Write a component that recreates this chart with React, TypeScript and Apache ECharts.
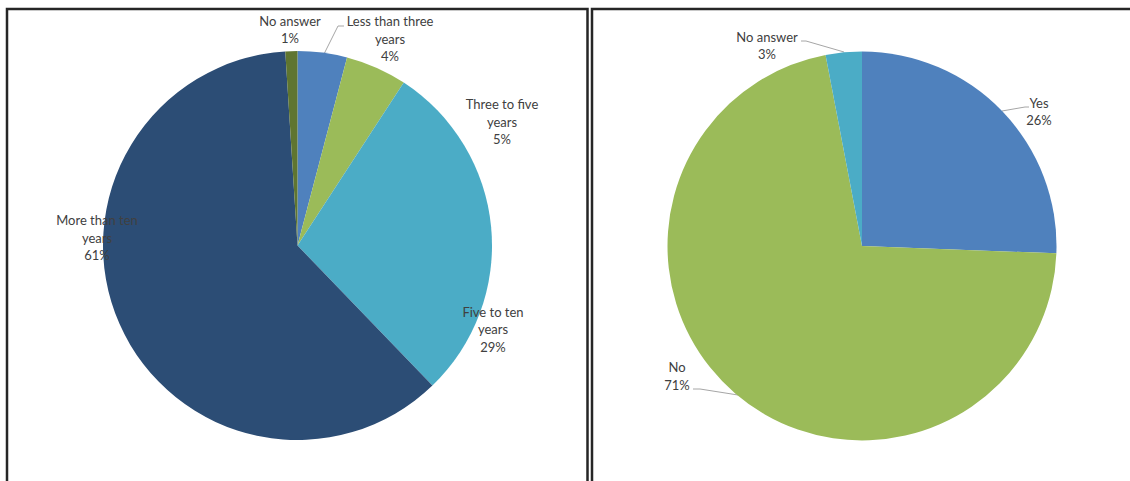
import React, { useEffect, useRef } from "react";
import * as echarts from "echarts";

// Left pie: length of time
const tenureCategories = [
  "Less than three\nyears",
  "Three to five\nyears",
  "Five to ten\nyears",
  "More than ten\nyears",
  "No answer",
];
const tenureValues = [4.1, 5.1, 28.6, 61.2, 1.0];
const tenureColors = ["#4F81BD", "#9BBB59", "#4BACC6", "#2C4D75", "#5F7530"];

// Right pie: yes / no
const answerCategories = ["Yes", "No", "No answer"];
const answerValues = [25.6, 71.4, 3.0];
const answerColors = ["#4F81BD", "#9BBB59", "#4BACC6"];

// label placement (centre of each label block) and leader lines
const tenureLabelPos = [
  { x: 390, y: 38.5, line: [[323, 56], [338, 26], [344, 26]] },
  { x: 502, y: 121.5 },
  { x: 493, y: 329 },
  { x: 97, y: 237.5 },
  { x: 290, y: 29.5 },
];
const answerLabelPos = [
  { x: 1039, y: 111.5, line: [[1002, 111], [1025, 107], [1029, 107]] },
  { x: 677, y: 376, line: [[738, 395], [700, 389], [693, 389]] },
  { x: 767, y: 45.5, line: [[844, 52], [806, 41], [801, 41]] },
];

const FONT = "Lato, 'Open Sans', sans-serif";

function makeSeries(
  names: string[],
  values: number[],
  colors: string[],
  center: number[],
  pos: any[]
) {
  return {
    type: "pie",
    center,
    radius: 194.5,
    startAngle: 90,
    clockwise: true,
    avoidLabelOverlap: false,
    data: names.map((n, i) => ({
      name: n,
      value: values[i],
      itemStyle: { color: colors[i], borderWidth: 0 },
      labelLine: { show: !!pos[i].line },
    })),
    label: {
      show: true,
      position: "outside",
      color: "#404040",
      fontFamily: FONT,
      fontSize: 13,
      lineHeight: 17.5,
      align: "center",
      formatter: (p: any) => `${p.name}\n${Math.round(p.percent)}%`,
    },
    labelLine: {
      show: true,
      lineStyle: { color: "#a6a6a6", width: 1 },
      length: 10,
      length2: 10,
    },
    labelLayout: (p: any) => {
      const q = pos[p.dataIndex];
      const r: any = { x: q.x, y: q.y, align: "center", verticalAlign: "middle" };
      if (q.line) r.labelLinePoints = q.line;
      return r;
    },
    emphasis: { disabled: true },
  };
}

export default function App() {
  const ref = useRef<HTMLDivElement>(null);
  useEffect(() => {
    if (!ref.current) return;
    const chart = echarts.init(ref.current, undefined, { renderer: "svg" });
    chart.setOption({
      animation: false,
      backgroundColor: "#ffffff",
      graphic: [
        {
          type: "rect",
          shape: { x: 7, y: 9, width: 580.5, height: 520 },
          style: { fill: "none", stroke: "#262626", lineWidth: 2.5 },
          z: 10,
        },
        {
          type: "rect",
          shape: { x: 592, y: 9, width: 580, height: 520 },
          style: { fill: "none", stroke: "#262626", lineWidth: 2.5 },
          z: 10,
        },
      ],
      series: [
        makeSeries(tenureCategories, tenureValues, tenureColors, [297.5, 245.5], tenureLabelPos),
        makeSeries(answerCategories, answerValues, answerColors, [862, 246], answerLabelPos),
      ],
    });
    return () => chart.dispose();
  }, []);
  return (
    <div
      ref={ref}
      style={{ position: "absolute", left: 0, top: 0, width: 1130, height: 481 }}
    />
  );
}
